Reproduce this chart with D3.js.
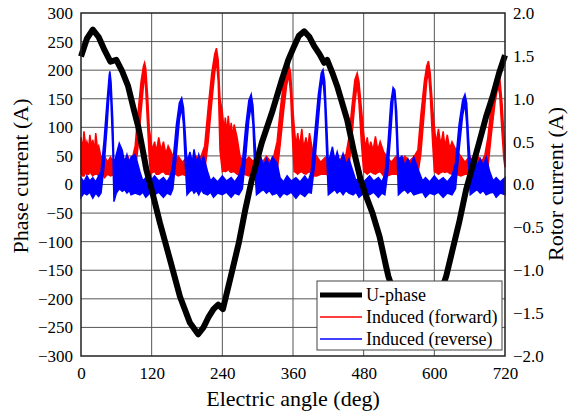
<!DOCTYPE html>
<meta charset="utf-8">
<body style="margin:0;background:#fff">
<script src="https://d3js.org/d3.v7.min.js"></script>
<div id="chart"></div>
<script>

// U-phase current [deg, A] (left axis)
var uPhase = [[0,224],[10,255],[20,271],[30,258],[40,235],[50,215],[60,218],[70,198],[80,172],
  [90,130],[97,102],[104,65],[111,26],[120,-9],[134,-67],[151,-131],[168,-196],[185,-242],
  [199,-262],[208,-250],[216,-233],[225,-218],[233,-210],[241,-218],[256,-154],[268,-102],
  [279,-44],[290,8],[307,73],[324,125],[341,183],[352,218],[362,242],[370,260],[379,268],
  [388,258],[396,242],[405,228],[413,213],[418,218],[427,195],[435,172],[452,113],[464,55],
  [475,8],[484,-20],[495,-50],[507,-91],[518,-143],[522,-161],[530,-185],[545,-228],
  [559,-262],[576,-233],[593,-210],[601,-218],[620,-161],[631,-114],[642,-67],[654,-9],
  [665,32],[676,73],[688,119],[699,154],[710,195],[720,226]];

// Induced rotor current, forward [deg, low, high] (right axis, A)
var forward = [[0,0.12,0.55],[3,0.10,0.40],[5,0.10,0.62],[8,0.14,0.45],[10,0.12,0.50],
  [13,0.12,0.42],[15,0.15,0.58],[18,0.12,0.44],[20,0.10,0.52],[23,0.12,0.40],
  [25,0.12,0.60],[28,0.12,0.42],[30,0.10,0.45],[33,0.10,0.35],[37,0.12,0.27],[40,0.08,0.33],
  [45,0.12,0.26],[50,0.10,0.32],[55,0.11,0.27],[60,0.10,0.30],[65,0.12,0.25],
  [70,0.12,0.33],[75,0.10,0.27],[80,0.10,0.32],[84,0.12,0.26],[88,0.10,0.33],[92,0.15,0.45],
  [97,0.45,0.85],[102,0.85,1.20],[106,1.15,1.38],[108,1.30,1.42],[110,1.10,1.35],
  [113,0.70,1.05],[116,0.30,0.65],[118,0.12,0.55],[121,0.14,0.40],[125,0.15,0.50],
  [128,0.12,0.38],[132,0.12,0.55],[136,0.14,0.40],[140,0.15,0.50],[144,0.12,0.36],
  [148,0.12,0.45],[155,0.10,0.35],[160,0.12,0.27],[165,0.10,0.33],[172,0.12,0.26],
  [180,0.10,0.32],[188,0.12,0.27],[195,0.12,0.33],[200,0.11,0.26],[205,0.10,0.35],
  [210,0.15,0.45],[216,0.50,0.90],[222,0.95,1.30],[227,1.30,1.52],[230,1.45,1.59],
  [233,1.20,1.45],[236,0.40,1.00],[240,0.15,0.85],[243,0.16,0.62],[245,0.15,0.78],
  [248,0.16,0.60],[250,0.18,0.80],[253,0.15,0.58],[255,0.14,0.72],[258,0.15,0.55],
  [260,0.15,0.70],[265,0.12,0.55],[270,0.10,0.33],[277,0.12,0.26],[285,0.10,0.32],
  [292,0.12,0.27],[300,0.12,0.33],[308,0.11,0.26],[315,0.10,0.33],[322,0.12,0.27],
  [328,0.10,0.35],[333,0.15,0.50],[338,0.45,0.85],[344,0.85,1.20],[349,1.15,1.35],
  [353,1.28,1.40],[356,1.05,1.30],[359,0.55,0.95],[362,0.15,0.68],[365,0.14,0.45],
  [368,0.12,0.60],[371,0.14,0.44],[375,0.15,0.65],[378,0.13,0.42],[382,0.12,0.55],
  [385,0.14,0.42],[388,0.15,0.60],[393,0.10,0.40],[400,0.10,0.33],[407,0.12,0.26],
  [415,0.12,0.32],[422,0.11,0.26],[430,0.10,0.33],[437,0.12,0.27],[445,0.12,0.33],
  [450,0.10,0.35],[455,0.20,0.55],[460,0.55,0.90],[465,0.95,1.22],[469,1.18,1.30],
  [472,0.95,1.20],[476,0.50,0.90],[480,0.15,0.60],[483,0.14,0.42],[486,0.12,0.55],
  [489,0.14,0.40],[492,0.15,0.50],[496,0.13,0.40],[500,0.12,0.56],[504,0.14,0.40],
  [508,0.15,0.50],[514,0.10,0.38],[520,0.10,0.32],[527,0.12,0.26],[535,0.12,0.33],
  [542,0.11,0.26],[550,0.10,0.33],[557,0.12,0.27],[565,0.12,0.32],[572,0.12,0.40],
  [577,0.35,0.80],[583,0.85,1.20],[587,1.20,1.38],[590,1.32,1.44],[593,1.05,1.30],
  [597,0.50,0.90],[600,0.15,0.68],[603,0.14,0.48],[607,0.12,0.65],[611,0.14,0.46],
  [615,0.15,0.62],[618,0.14,0.44],[622,0.15,0.58],[626,0.13,0.42],[630,0.12,0.50],
  [637,0.12,0.40],[645,0.10,0.33],[652,0.12,0.26],[660,0.12,0.33],[667,0.11,0.26],
  [675,0.10,0.32],[681,0.12,0.27],[686,0.12,0.35],[691,0.20,0.55],[697,0.60,0.95],
  [703,0.95,1.20],[708,1.15,1.30],[711,1.05,1.25],[715,0.60,0.95],[718,0.30,0.60],
  [720,0.20,0.45]];

// Induced rotor current, reverse [deg, low, high] (right axis, A)
var reverse = [[0,-0.15,0.08],[5,-0.10,0.03],[10,-0.12,0.10],[15,-0.09,0.04],[20,-0.16,0.08],
  [25,-0.10,0.03],[30,-0.14,0.10],[34,-0.10,0.15],[39,0.20,0.50],[44,0.65,0.95],
  [48,1.10,1.28],[49,1.20,1.32],[51,0.95,1.20],[54,0.40,0.75],[56,-0.20,0.20],
  [60,-0.10,0.35],[65,-0.05,0.48],[70,-0.08,0.40],[74,-0.06,0.26],[78,-0.10,0.35],
  [82,-0.07,0.24],[85,-0.12,0.32],[92,-0.10,0.35],[100,-0.12,0.15],[105,-0.09,0.04],
  [110,-0.15,0.08],[117,-0.10,0.03],[125,-0.12,0.10],[132,-0.09,0.04],[140,-0.15,0.08],
  [146,-0.10,0.03],[152,-0.12,0.10],[156,-0.05,0.25],[162,0.35,0.70],[167,0.75,0.95],
  [171,0.90,1.01],[174,0.70,0.90],[177,0.25,0.60],[180,-0.12,0.25],[185,-0.08,0.38],
  [189,-0.06,0.26],[192,-0.10,0.41],[196,-0.07,0.25],[200,-0.12,0.35],[204,-0.06,0.24],
  [208,-0.10,0.33],[215,-0.12,0.15],[220,-0.09,0.04],[225,-0.15,0.08],[232,-0.10,0.03],
  [240,-0.12,0.10],[247,-0.09,0.04],[255,-0.15,0.08],[261,-0.10,0.03],[268,-0.12,0.10],
  [274,-0.05,0.25],[280,0.35,0.70],[285,0.75,0.98],[289,0.92,1.05],[292,0.70,0.92],
  [295,0.20,0.55],[298,-0.12,0.25],[305,-0.08,0.33],[310,-0.06,0.22],[315,-0.10,0.30],
  [320,-0.07,0.22],[325,-0.12,0.32],[333,-0.10,0.25],[338,-0.15,0.08],[344,-0.10,0.03],
  [350,-0.12,0.10],[357,-0.09,0.04],[365,-0.16,0.08],[372,-0.10,0.03],[380,-0.14,0.10],
  [386,-0.09,0.04],[391,-0.10,0.15],[397,0.25,0.60],[403,0.75,1.05],[408,1.15,1.30],
  [411,1.22,1.34],[414,0.95,1.20],[417,0.40,0.75],[420,-0.12,0.25],[427,-0.08,0.44],
  [431,-0.06,0.28],[435,-0.10,0.38],[440,-0.07,0.25],[445,-0.12,0.36],[450,-0.07,0.24],
  [455,-0.10,0.30],[462,-0.12,0.15],[467,-0.09,0.04],[472,-0.15,0.08],[480,-0.10,0.03],
  [490,-0.12,0.10],[497,-0.09,0.04],[505,-0.15,0.08],[511,-0.10,0.03],[516,-0.12,0.12],
  [521,0.15,0.45],[526,0.60,0.95],[530,1.00,1.13],[533,1.00,1.10],[536,0.55,0.85],
  [539,-0.12,0.30],[545,-0.08,0.33],[550,-0.06,0.22],[555,-0.10,0.30],[560,-0.07,0.22],
  [565,-0.12,0.32],[574,-0.10,0.15],[580,-0.09,0.04],[585,-0.15,0.08],[592,-0.10,0.03],
  [600,-0.12,0.10],[607,-0.09,0.04],[615,-0.15,0.08],[622,-0.10,0.03],[630,-0.12,0.10],
  [636,-0.05,0.25],[642,0.40,0.70],[648,0.80,0.98],[652,0.95,1.05],[655,0.70,0.95],
  [658,0.25,0.55],[661,-0.12,0.25],[668,-0.08,0.33],[673,-0.06,0.22],[678,-0.10,0.30],
  [683,-0.07,0.22],[688,-0.12,0.32],[694,-0.10,0.15],[700,-0.09,0.04],[705,-0.15,0.08],
  [712,-0.10,0.03],[720,-0.12,0.08]];

// tick values
var xTicks = [0, 120, 240, 360, 480, 600, 720];
var leftTicks = [-300, -250, -200, -150, -100, -50, 0, 50, 100, 150, 200, 250, 300];
var rightTicks = [-2.0, -1.5, -1.0, -0.5, 0.0, 0.5, 1.0, 1.5, 2.0];
var legendLabels = ["U-phase", "Induced (forward)", "Induced (reverse)"];
var legendColors = ["#000000", "#ff0000", "#0000ff"];

var margin = {top: 13, right: 63, bottom: 57, left: 81},
    width = 568 - margin.left - margin.right,
    height = 413 - margin.top - margin.bottom;

var font = "Liberation Serif, Times New Roman, DejaVu Serif, serif";

var x = d3.scaleLinear().domain([0, 720]).range([0, width]);
var yL = d3.scaleLinear().domain([-300, 300]).range([height, 0]);
var yR = d3.scaleLinear().domain([-2, 2]).range([height, 0]);

var svg = d3.select("#chart")
  .append("svg")
    .attr("width", 568)
    .attr("height", 413)
    .attr("font-family", font)
  .append("g")
    .attr("transform", "translate(" + margin.left + "," + margin.top + ")");

// grid lines
svg.append("g")
  .selectAll("line")
  .data(leftTicks.slice(1, -1))
  .enter().append("line")
    .attr("x1", 0).attr("x2", width)
    .attr("y1", function(d) { return yL(d); })
    .attr("y2", function(d) { return yL(d); })
    .style("stroke", "#555")
    .style("stroke-width", 1);

svg.append("g")
  .selectAll("line")
  .data(xTicks.slice(1, -1))
  .enter().append("line")
    .attr("y1", 0).attr("y2", height)
    .attr("x1", function(d) { return x(d); })
    .attr("x2", function(d) { return x(d); })
    .style("stroke", "#555")
    .style("stroke-width", 1);

// induced current bands
var band = d3.area()
  .x(function(d) { return x(d[0]); })
  .y0(function(d) { return yR(d[1]); })
  .y1(function(d) { return yR(d[2]); });

svg.append("path")
  .datum(forward)
  .attr("d", band)
  .style("fill", "#ff0000")
  .style("stroke", "#ff0000")
  .style("stroke-width", 1.5);

svg.append("path")
  .datum(reverse)
  .attr("d", band)
  .style("fill", "#0000ff")
  .style("stroke", "#0000ff")
  .style("stroke-width", 1.5);

// U-phase current
var line = d3.line()
  .x(function(d) { return x(d[0]); })
  .y(function(d) { return yL(d[1]); });

svg.append("path")
  .datum(uPhase)
  .attr("d", line)
  .style("fill", "none")
  .style("stroke", "#000")
  .style("stroke-width", 6)
  .style("stroke-linejoin", "round");

// frame
svg.append("rect")
  .attr("width", width)
  .attr("height", height)
  .style("fill", "none")
  .style("stroke", "#222")
  .style("stroke-width", 1.5);

// axes (labels only, no tick marks)
var xAxis = svg.append("g")
  .attr("transform", "translate(0," + height + ")")
  .call(d3.axisBottom(x).tickValues(xTicks).tickSize(0).tickPadding(11));
var lAxis = svg.append("g")
  .call(d3.axisLeft(yL).tickValues(leftTicks).tickSize(0).tickPadding(8));
var rAxis = svg.append("g")
  .attr("transform", "translate(" + width + ",0)")
  .call(d3.axisRight(yR).tickValues(rightTicks).tickFormat(d3.format(".1f")).tickSize(0).tickPadding(8));

[xAxis, lAxis, rAxis].forEach(function(a) {
  a.attr("font-family", font).attr("font-size", 17);
  a.select(".domain").remove();
  a.selectAll("text").attr("fill", "#000");
});

// axis titles
svg.append("text")
  .attr("text-anchor", "middle")
  .attr("x", width / 2)
  .attr("y", height + 50)
  .attr("font-size", 22)
  .text("Electric angle (deg)");

svg.append("text")
  .attr("text-anchor", "middle")
  .attr("transform", "translate(" + (28 - margin.left) + "," + (176 - margin.top) + ") rotate(-90)")
  .attr("font-size", 22)
  .text("Phase current (A)");

svg.append("text")
  .attr("text-anchor", "middle")
  .attr("transform", "translate(" + (563 - margin.left) + "," + (184 - margin.top) + ") rotate(-90)")
  .attr("font-size", 22)
  .text("Rotor current (A)");

// legend
var lg = svg.append("g")
  .attr("transform", "translate(" + (317 - margin.left) + "," + (281 - margin.top) + ")");

lg.append("rect")
  .attr("width", 185)
  .attr("height", 69)
  .style("fill", "#fff")
  .style("stroke", "#444")
  .style("stroke-width", 1);

var item = lg.selectAll(".item")
  .data(legendLabels)
  .enter().append("g")
  .attr("class", "item")
  .attr("transform", function(d, i) { return "translate(0," + (14 + i * 22) + ")"; });

item.append("line")
  .attr("x1", 3).attr("x2", 45)
  .style("stroke", function(d, i) { return legendColors[i]; })
  .style("stroke-width", function(d, i) { return i == 0 ? 5 : 1.5; });

item.append("text")
  .attr("x", 49)
  .attr("y", 6)
  .attr("font-size", 18)
  .text(function(d) { return d; });

</script>
</body>
